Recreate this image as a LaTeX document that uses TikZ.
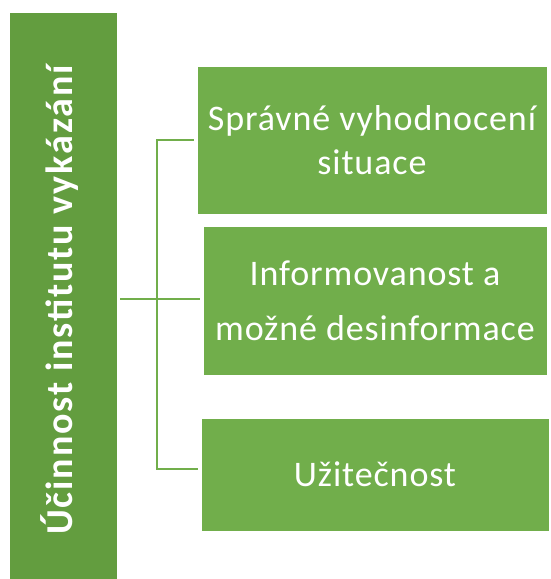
\documentclass[tikz,border=0pt]{standalone}
\usepackage{fontspec}
\setmainfont{Carlito}
\newfontfamily\boxfont[LetterSpace=2.5]{Carlito}
\newfontfamily\titlefont[LetterSpace=5]{Carlito}
\usepackage{tikz}
\usetikzlibrary{positioning}

\definecolor{bargreen}{HTML}{639D3F}
\definecolor{boxgreen}{HTML}{71AE4B}

\begin{document}
\begin{tikzpicture}[x=1pt, y=1pt,
    box/.style={fill=boxgreen, draw=white, line width=0.8pt, text=white, align=center,
      inner sep=0pt, font=\boxfont\fontsize{36}{44}\selectfont},
    link/.style={draw=boxgreen, line width=2pt}]
    \useasboundingbox (0,0) rectangle (550,579);

    % Main bar with the title
    \node[box, fill=bargreen, draw=none, minimum width=107pt, minimum height=566pt] (bar) at (63.5,283) {};
    \node[rotate=90, text=white, font=\titlefont\fontsize{38}{44}\selectfont\bfseries] (title) at (60,279) {Účinnost institutu vykázání};

    % Branches
    \node[box, minimum width=350pt, minimum height=148pt] (spravne) at (372,439) {Správné vyhodnocení\\situace};
    \node[box, minimum width=344pt, minimum height=149pt] (info) at (375,278.5) {Informovanost a\\[11pt]možné desinformace};
    \node[box, minimum width=348pt, minimum height=113pt] (uzitek) at (375,104.5) {Užitečnost};

    % Connectors
    \coordinate (hub) at (157,280);
    \draw[link, shorten <=3pt] (bar.east |- hub) -- (hub);
    \draw[link, shorten >=3pt] (hub) |- (spravne.west);
    \draw[link, shorten >=3pt] (hub) -- (info.west |- hub);
    \draw[link, shorten >=3pt] (hub) |- ([yshift=5pt]uzitek.west);
\end{tikzpicture}
\end{document}
